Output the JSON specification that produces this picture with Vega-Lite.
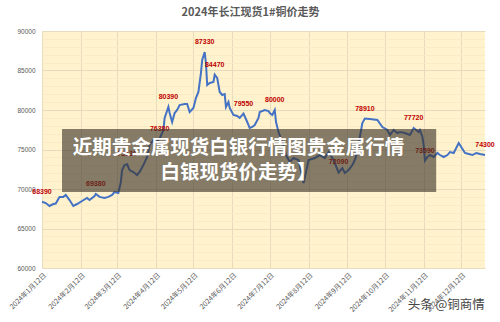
{
  "$schema": "https://vega.github.io/schema/vega-lite/v6.json",
  "width": 443,
  "height": 237,
  "autosize": {"type": "none"},
  "padding": {"left": 42, "top": 31, "right": 15, "bottom": 54},
  "background": "white",
  "title": {"text": "2024年长江现货1#铜价走势", "fontSize": 11, "font": "Noto Sans CJK SC", "fontWeight": "bold", "color": "#595959", "offset": 10, "dx": -13},
  "config": {"view": {"stroke": null, "fill": "#FFF2CC"}, "font": "Liberation Sans"},
  "resolve": {"axis": {"y": "independent"}},
  "datasets": {
    "price": [
      {"date":"2024-01-12","price":68390,"label":"68390"},
      {"date":"2024-01-15","price":68220},
      {"date":"2024-01-18","price":67850},
      {"date":"2024-01-21","price":68100},
      {"date":"2024-01-23","price":68160},
      {"date":"2024-01-26","price":69000},
      {"date":"2024-01-29","price":69000},
      {"date":"2024-01-31","price":69240},
      {"date":"2024-02-03","price":68600},
      {"date":"2024-02-06","price":67850},
      {"date":"2024-02-09","price":68100},
      {"date":"2024-02-13","price":68480},
      {"date":"2024-02-17","price":68860},
      {"date":"2024-02-19","price":68600},
      {"date":"2024-02-23","price":69110},
      {"date":"2024-02-24","price":69380,"label":"69380"},
      {"date":"2024-02-27","price":69000},
      {"date":"2024-03-02","price":68860},
      {"date":"2024-03-05","price":69000},
      {"date":"2024-03-08","price":69240},
      {"date":"2024-03-10","price":69620},
      {"date":"2024-03-13","price":69490},
      {"date":"2024-03-15","price":70880},
      {"date":"2024-03-16","price":72400},
      {"date":"2024-03-18","price":73030},
      {"date":"2024-03-20","price":73130,"label":"73130"},
      {"date":"2024-03-22","price":72400},
      {"date":"2024-03-25","price":72150},
      {"date":"2024-03-28","price":71770},
      {"date":"2024-03-30","price":72150},
      {"date":"2024-04-02","price":73030},
      {"date":"2024-04-05","price":74050},
      {"date":"2024-04-07","price":75570},
      {"date":"2024-04-10","price":76200},
      {"date":"2024-04-13","price":76070},
      {"date":"2024-04-15","price":76380,"label":"76380"},
      {"date":"2024-04-18","price":77470},
      {"date":"2024-04-19","price":78990},
      {"date":"2024-04-22","price":80390,"label":"80390"},
      {"date":"2024-04-23","price":79620},
      {"date":"2024-04-25","price":78480},
      {"date":"2024-04-27","price":79620},
      {"date":"2024-04-29","price":80000},
      {"date":"2024-05-01","price":80630},
      {"date":"2024-05-05","price":80760},
      {"date":"2024-05-07","price":80760},
      {"date":"2024-05-09","price":79750},
      {"date":"2024-05-12","price":80250},
      {"date":"2024-05-14","price":81520},
      {"date":"2024-05-16","price":82280},
      {"date":"2024-05-18","price":84680},
      {"date":"2024-05-19","price":86330},
      {"date":"2024-05-21","price":87330,"label":"87330"},
      {"date":"2024-05-22","price":85950},
      {"date":"2024-05-23","price":83160},
      {"date":"2024-05-25","price":83420},
      {"date":"2024-05-28","price":83540},
      {"date":"2024-05-29","price":84470,"label":"84470"},
      {"date":"2024-05-31","price":84050},
      {"date":"2024-06-02","price":82280},
      {"date":"2024-06-04","price":81900},
      {"date":"2024-06-06","price":82020},
      {"date":"2024-06-07","price":80380},
      {"date":"2024-06-09","price":81010},
      {"date":"2024-06-10","price":80250},
      {"date":"2024-06-13","price":79370},
      {"date":"2024-06-16","price":79240},
      {"date":"2024-06-18","price":78990},
      {"date":"2024-06-21","price":79550,"label":"79550"},
      {"date":"2024-06-24","price":78480},
      {"date":"2024-06-26","price":77720},
      {"date":"2024-06-28","price":77850},
      {"date":"2024-06-30","price":78100},
      {"date":"2024-07-03","price":78990},
      {"date":"2024-07-04","price":79750},
      {"date":"2024-07-08","price":80000},
      {"date":"2024-07-11","price":79870},
      {"date":"2024-07-12","price":79620},
      {"date":"2024-07-14","price":79370},
      {"date":"2024-07-16","price":80000,"label":"80000"},
      {"date":"2024-07-17","price":78480},
      {"date":"2024-07-19","price":77210},
      {"date":"2024-07-22","price":75950},
      {"date":"2024-07-25","price":74300},
      {"date":"2024-07-28","price":73420},
      {"date":"2024-07-31","price":73920},
      {"date":"2024-08-04","price":73670},
      {"date":"2024-08-08","price":70760},
      {"date":"2024-08-10","price":72150},
      {"date":"2024-08-12","price":73670},
      {"date":"2024-08-17","price":73920},
      {"date":"2024-08-21","price":74300},
      {"date":"2024-08-25","price":73920},
      {"date":"2024-08-28","price":74680},
      {"date":"2024-09-01","price":73670},
      {"date":"2024-09-05","price":72090,"label":"72090"},
      {"date":"2024-09-08","price":72650},
      {"date":"2024-09-10","price":72020},
      {"date":"2024-09-13","price":72400},
      {"date":"2024-09-16","price":73030},
      {"date":"2024-09-18","price":73670},
      {"date":"2024-09-21","price":75190},
      {"date":"2024-09-22","price":76580},
      {"date":"2024-09-24","price":78350},
      {"date":"2024-09-26","price":78910,"label":"78910"},
      {"date":"2024-09-30","price":78860},
      {"date":"2024-10-06","price":78730},
      {"date":"2024-10-10","price":77850},
      {"date":"2024-10-14","price":77470},
      {"date":"2024-10-16","price":76830},
      {"date":"2024-10-19","price":77470},
      {"date":"2024-10-22","price":77090},
      {"date":"2024-10-24","price":77210},
      {"date":"2024-10-28","price":77090},
      {"date":"2024-11-01","price":76830},
      {"date":"2024-11-04","price":77720,"label":"77720"},
      {"date":"2024-11-08","price":77210},
      {"date":"2024-11-09","price":77470},
      {"date":"2024-11-11","price":76580},
      {"date":"2024-11-12","price":75570},
      {"date":"2024-11-13","price":73590,"label":"73590"},
      {"date":"2024-11-15","price":74050},
      {"date":"2024-11-17","price":74300},
      {"date":"2024-11-20","price":74050},
      {"date":"2024-11-23","price":74560},
      {"date":"2024-11-25","price":74300},
      {"date":"2024-11-28","price":74050},
      {"date":"2024-12-01","price":74300},
      {"date":"2024-12-03","price":74680},
      {"date":"2024-12-06","price":74560},
      {"date":"2024-12-08","price":75190},
      {"date":"2024-12-10","price":75820},
      {"date":"2024-12-13","price":75060},
      {"date":"2024-12-15","price":74560},
      {"date":"2024-12-18","price":74430},
      {"date":"2024-12-21","price":74300},
      {"date":"2024-12-24","price":74560},
      {"date":"2024-12-27","price":74430},
      {"date":"2024-12-31","price":74300,"label":"74300"}
    ],
    "box": [{"start":"2024-01-28","end":"2024-11-22","top":77590,"bottom":69620}],
    "overlay": [
      {"date":"2024-06-17","price":75190,"text":"近期贵金属现货白银行情图贵金属行情"},
      {"date":"2024-06-17","price":72020,"text":"白银现货价走势】"}
    ],
    "watermark": [{"date":"2024-11-30","price":55310,"text":"头条 @铜商情"}]
  },
  "layer": [
    {
      "data": {"name": "price"},
      "mark": {"type": "line", "color": "#4472C4", "strokeWidth": 2},
      "encoding": {
        "x": {
          "field": "date", "type": "temporal",
          "scale": {"type": "utc", "domain": [{"year":2024,"month":1,"date":12,"utc":true},{"year":2024,"month":12,"date":31,"utc":true}]},
          "axis": {
            "values": [
              {"year":2024,"month":1,"date":12,"utc":true},
              {"year":2024,"month":2,"date":12,"utc":true},
              {"year":2024,"month":3,"date":12,"utc":true},
              {"year":2024,"month":4,"date":12,"utc":true},
              {"year":2024,"month":5,"date":12,"utc":true},
              {"year":2024,"month":6,"date":12,"utc":true},
              {"year":2024,"month":7,"date":12,"utc":true},
              {"year":2024,"month":8,"date":12,"utc":true},
              {"year":2024,"month":9,"date":12,"utc":true},
              {"year":2024,"month":10,"date":12,"utc":true},
              {"year":2024,"month":11,"date":12,"utc":true},
              {"year":2024,"month":12,"date":12,"utc":true}
            ],
            "format": "%Y年%-m月%-d日",
            "labelAngle": -45,
            "labelFontSize": 7,
            "labelFont": "Noto Sans CJK SC",
            "labelColor": "#595959",
            "labelPadding": 3,
            "labelOverlap": false,
            "labelFlush": false,
            "labelBound": false,
            "grid": true,
            "gridColor": "#E6DBBD",
            "domain": false,
            "ticks": false,
            "title": null
          }
        },
        "y": {
          "field": "price", "type": "quantitative",
          "scale": {"domain": [60000, 90000], "nice": false, "zero": false},
          "axis": {
            "orient": "left",
            "values": [60000, 65000, 70000, 75000, 80000, 85000, 90000],
            "format": "d",
            "labelOverlap": false,
            "labelFontSize": 6.5,
            "labelColor": "#595959",
            "labelPadding": 7,
            "grid": true,
            "gridColor": "#E6DBBD",
            "domain": false,
            "ticks": false,
            "title": null
          }
        }
      }
    },
    {
      "data": {"name": "price"},
      "transform": [{"filter": "datum.label != null"}],
      "mark": {"type": "text", "color": "#C00000", "fontSize": 7, "fontWeight": "bold", "dy": -10},
      "encoding": {
        "x": {"field": "date", "type": "temporal"},
        "y": {"field": "price", "type": "quantitative", "axis": null},
        "text": {"field": "label"}
      }
    },
    {
      "data": {"name": "box"},
      "mark": {"type": "rect", "fill": "#3a3226", "opacity": 0.62},
      "encoding": {
        "x": {"field": "start", "type": "temporal"},
        "x2": {"field": "end"},
        "y": {"field": "top", "type": "quantitative", "axis": {
            "orient": "left",
            "values": [61000,62000,63000,64000,66000,67000,68000,69000,71000,72000,73000,74000,76000,77000,78000,79000,81000,82000,83000,84000,86000,87000,88000,89000],
            "labels": false, "ticks": false, "domain": false, "title": null,
            "grid": true, "gridColor": "#F8EBC6"}},
        "y2": {"field": "bottom"}
      }
    },
    {
      "data": {"name": "overlay"},
      "mark": {"type": "text", "color": "white", "font": "Noto Sans CJK SC", "fontWeight": "bold", "fontSize": 19.5},
      "encoding": {
        "x": {"field": "date", "type": "temporal"},
        "y": {"field": "price", "type": "quantitative", "axis": null},
        "text": {"field": "text"}
      }
    },
    {
      "data": {"name": "watermark"},
      "mark": {"type": "text", "color": "#444444", "font": "Noto Sans CJK SC", "fontSize": 12.5},
      "encoding": {
        "x": {"field": "date", "type": "temporal"},
        "y": {"field": "price", "type": "quantitative", "axis": null},
        "text": {"field": "text"}
      }
    }
  ]
}
